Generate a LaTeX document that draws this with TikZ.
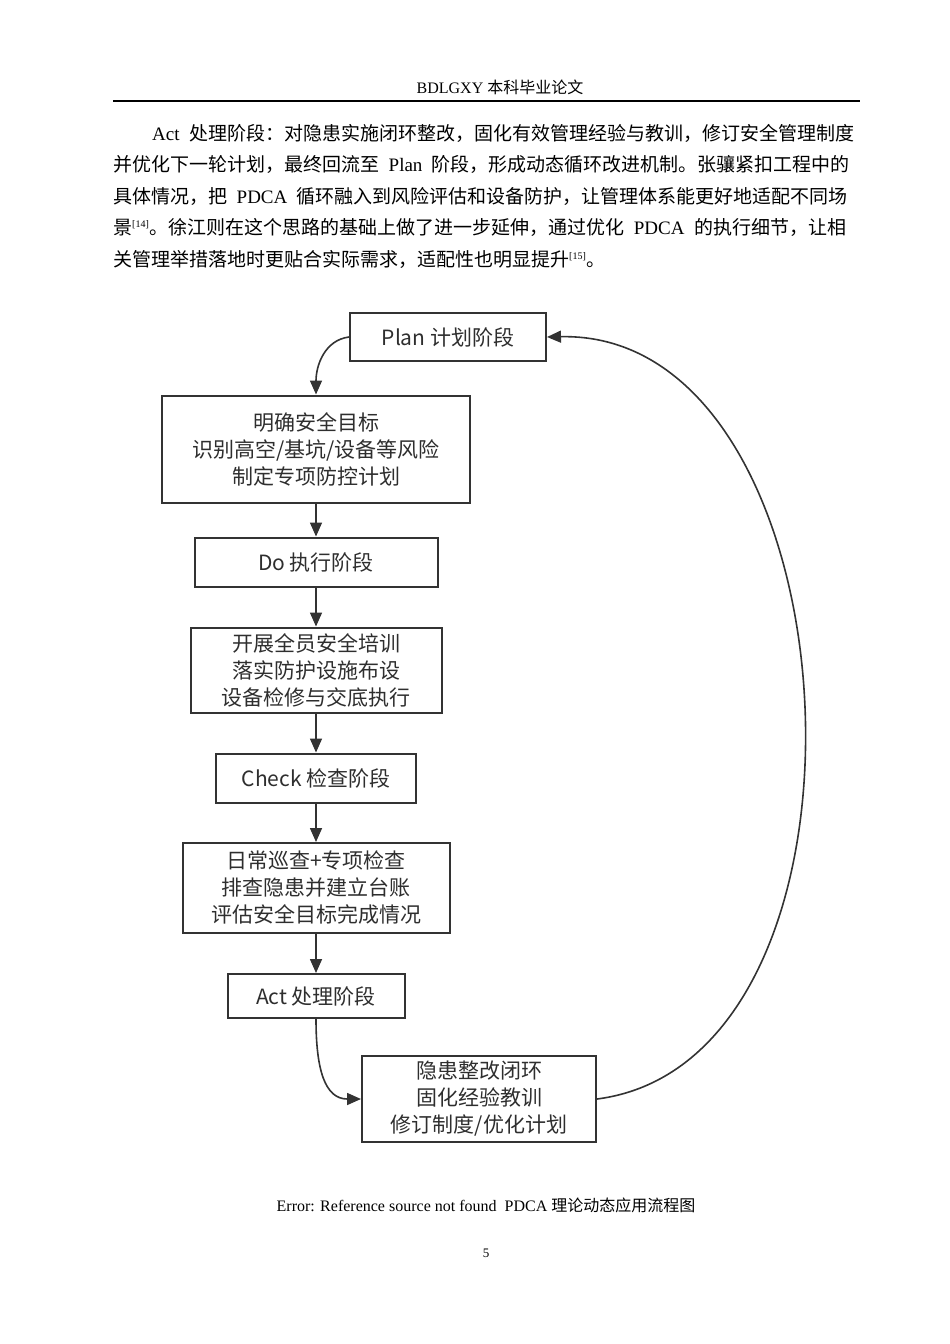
\documentclass[tikz,border=0pt]{standalone}
\usepackage{fontspec}
\setmainfont{Liberation Serif}
\newfontfamily\cjk{Noto Sans CJK SC}
\usetikzlibrary{arrows.meta}
\begin{document}
\begin{tikzpicture}[x=1pt,y=-1pt,
  bx/.style={draw=black!80,line width=2pt,minimum height=#1,align=center,font=\cjk\fontsize{21}{27}\selectfont,text=black!82,inner sep=0pt},
  ar/.style={draw=black!80,line width=1.6pt,-{Triangle[length=14pt,width=12pt]}},
  tl/.style={anchor=west,inner sep=0pt,font=\fontsize{19}{20}\selectfont}]
\useasboundingbox (0,0) rectangle (950,1344);
\node (hd) at (500,87) {\fontsize{16}{18}\selectfont BDLGXY {\cjk 本科毕业论文}};
\draw[line width=1.2pt] (113,101) -- (860,101);
\node[tl] (l1) at (152,133) {Act\ \ {\cjk 处理阶段：对隐患实施闭环整改，固化有效管理经验与教训，修订安全管理制度}};
\node[tl] (l2) at (113,164) {{\cjk 并优化下一轮计划，最终回流至}\ \ Plan\ \ {\cjk 阶段，形成动态循环改进机制。张骧紧扣工程中的}};
\node[tl] (l3) at (113,196) {{\cjk 具体情况，把}\ \ PDCA\ \ {\cjk 循环融入到风险评估和设备防护，让管理体系能更好地适配不同场}};
\node[tl] (l4) at (113,227) {{\cjk 景}\textsuperscript{\fontsize{10}{10}\selectfont[14]}{\cjk 。徐江则在这个思路的基础上做了进一步延伸，通过优化}\ \ PDCA\ \ {\cjk 的执行细节，让相}};
\node[tl] (l5) at (113,259) {{\cjk 关管理举措落地时更贴合实际需求，适配性也明显提升}\textsuperscript{\fontsize{10}{10}\selectfont[15]}{\cjk 。}};
\node[bx=48pt,minimum width=196pt] (plan) at (448,337) {Plan 计划阶段};
\node[bx=107pt,minimum width=308pt] (b1) at (316,449) {明确安全目标\\识别高空/基坑/设备等风险\\制定专项防控计划};
\node[bx=49pt,minimum width=243pt] (do) at (316,562) {Do 执行阶段};
\node[bx=85pt,minimum width=251pt] (b2) at (316,670) {开展全员安全培训\\落实防护设施布设\\设备检修与交底执行};
\node[bx=49pt,minimum width=200pt] (ck) at (316,778) {Check 检查阶段};
\node[bx=90pt,minimum width=267pt] (b3) at (316,888) {日常巡查+专项检查\\排查隐患并建立台账\\评估安全目标完成情况};
\node[bx=44pt,minimum width=177pt] (act) at (316,996) {Act 处理阶段};
\node[bx=86pt,minimum width=234pt] (b4) at (479,1099) {隐患整改闭环\\固化经验教训\\修订制度/优化计划};
\draw[ar] (plan.west) .. controls (325,340) and (316,365) .. (b1.north);
\draw[ar] (b1) -- (do);
\draw[ar] (do) -- (b2);
\draw[ar] (b2) -- (ck);
\draw[ar] (ck) -- (b3);
\draw[ar] (b3) -- (act);
\draw[ar] (act.south) .. controls (316,1070) and (325,1099) .. (b4.west);
\draw[ar] (b4.east) .. controls (900,1060) and (860,330) .. (plan.east);
\node (cap) at (486,1205) {\fontsize{16}{18}\selectfont Error: Reference source not found\ \ PDCA {\cjk 理论动态应用流程图}};
\node (pg) at (486,1253) {\fontsize{13}{14}\selectfont 5};
\end{tikzpicture}
\end{document}
